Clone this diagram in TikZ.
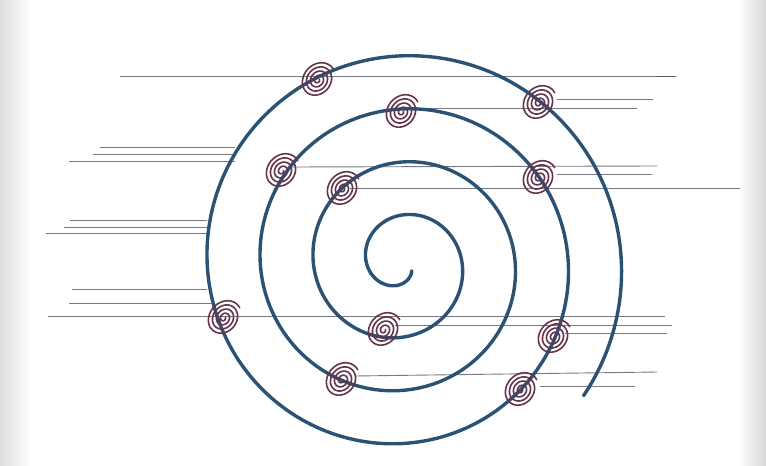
\documentclass[tikz,border=0pt]{standalone}
\definecolor{spiralblue}{RGB}{42,82,116}
\definecolor{coilred}{RGB}{100,52,76}
\definecolor{linegray}{RGB}{120,120,130}
\begin{document}
\begin{tikzpicture}[x=1pt,y=-1pt,
  mainspiral/.style={draw=spiralblue, line width=3.4pt, line cap=round},
  coilline/.style={draw=coilred, line width=1.6pt, line cap=round, line join=round},
  hline/.style={draw=linegray, line width=0.9pt},
  darkseg/.style={draw=black!65, line width=1.6pt},
  coil/.pic={\draw[coilline] plot[domain=30:1460, samples=260, variable=\t]
     ({(1+0.01240*\t)*cos(\t)},{(0.9+0.01030*\t)*sin(\t)});}
]
\useasboundingbox (0,0) rectangle (766,466);
% scan shading at the edges
\shade[left color=black!13, right color=white] (0,0) rectangle (30,466);
\shade[left color=white, right color=black!16] (738,0) rectangle (766,466);

% horizontal lines
\draw[hline] (120,76) -- (657,76);
\draw[darkseg] (657,76.5) -- (676,76.5);
\draw[hline] (557,99) -- (653,99);
\draw[hline] (402,108) -- (637,108);
\draw[hline] (100,147) -- (235,147);
\draw[hline] (93,154) -- (235,154);
\draw[hline] (69,161) -- (235,161);
\draw[hline] (290,167) -- (657,166);
\draw[hline] (557,174) -- (652,174);
\draw[hline] (350,188) -- (740,188);
\draw[hline] (70,220) -- (207,220);
\draw[hline] (64,227) -- (207,227);
\draw[hline] (46,233) -- (207,233);
\draw[hline] (72,289) -- (207,289);
\draw[hline] (69,303) -- (212,303);
\draw[hline] (48,316) -- (665,316);
\draw[hline] (395,325) -- (672,325);
\draw[hline] (565,333) -- (667,333);
\draw[hline] (355,376) -- (657,372);
\draw[hline] (540,386) -- (635,386);

% main spiral
\draw[mainspiral] plot[domain=36:1476, samples=500, smooth, variable=\t]
  ({401+(8.0+0.1475*\t)*cos(\t)},{263+(8.0+0.1475*\t)*sin(\t)});

% small coils
\coordinate (c1) at (318,80);
\coordinate (c2) at (402,112);
\coordinate (c3) at (539,103);
\coordinate (c4) at (282,171);
\coordinate (c5) at (343,189);
\coordinate (c6) at (539,178);
\coordinate (c7) at (224,318);
\coordinate (c8) at (384,330);
\coordinate (c9) at (554,337);
\coordinate (c10) at (342,380);
\coordinate (c11) at (521,390);
\foreach \c in {c1,c2,c3,c4,c5,c6,c7,c8,c9,c10,c11}
  \pic[rotate=50] at (\c) {coil};
\end{tikzpicture}
\end{document}
